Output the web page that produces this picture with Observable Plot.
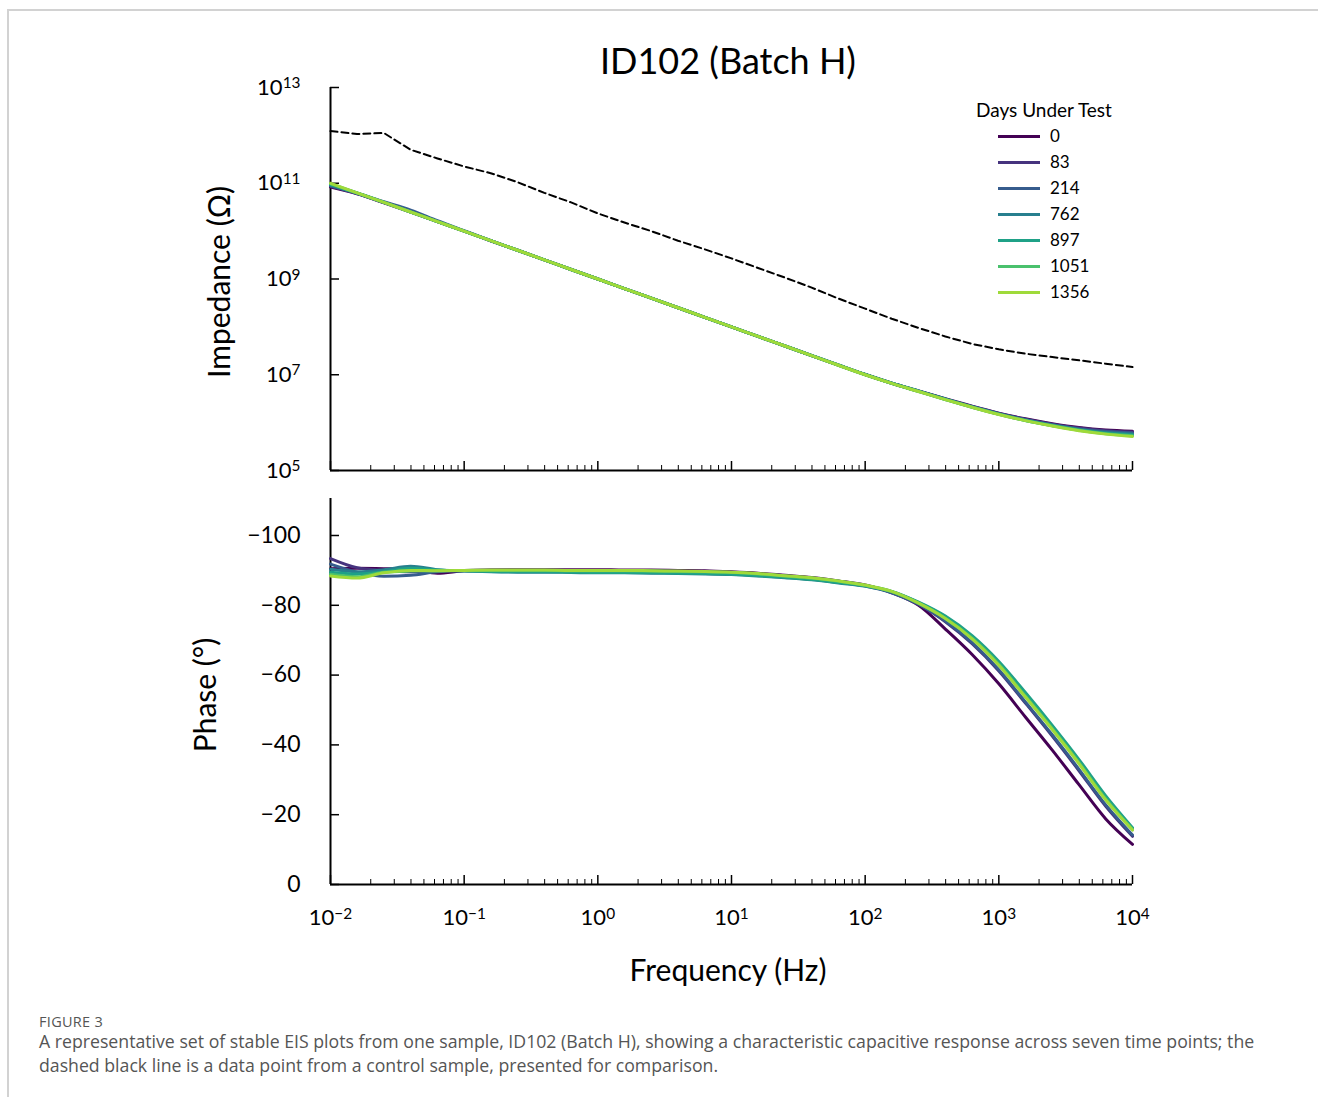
<!DOCTYPE html>
<html>
<head>
<meta charset="utf-8">
<script src="https://cdn.jsdelivr.net/npm/d3@7"></script>
<script src="https://cdn.jsdelivr.net/npm/@observablehq/plot@0.6"></script>
<style>
  body { margin: 0; background: #fff; }
  #page { position: relative; width: 1318px; height: 1097px; overflow: hidden; font-family: Lato, "Open Sans", sans-serif; color: #000; }
  #border { position: absolute; left: 7px; top: 9px; width: 1400px; height: 1200px; border-left: 2px solid #d2d2d2; border-top: 2px solid #d2d2d2; }
  .abs { position: absolute; white-space: nowrap; }
  .rot { transform: translate(-50%, -50%) rotate(-90deg); }
  .ctr { transform: translate(-50%, -50%); }
  #p1, #p2 { position: absolute; left: 0; }
  #p1 { top: 0; }
  #p2 { top: 490px; }
  #legend { position: absolute; left: 960px; top: 98px; }
  .cap { position: absolute; left: 39px; font-family: "Open Sans", Lato, sans-serif; color: #555; }
</style>
</head>
<body>
<div id="page">
  <div id="border"></div>
  <div id="p1"></div>
  <div id="p2"></div>
  <div class="abs ctr" id="title" style="left:728px; top:60px; font-size:36px;">ID102 (Batch H)</div>
  <div class="abs rot" style="left:218px; top:282px; font-size:30px;">Impedance (Ω)</div>
  <div class="abs rot" style="left:204px; top:695px; font-size:30px;">Phase (°)</div>
  <div class="abs ctr" style="left:728px; top:969px; font-size:30px;">Frequency (Hz)</div>
  <div id="legend"></div>
  <div class="cap" style="top:1012px; font-size:14.5px; letter-spacing:0.3px;">FIGURE 3</div>
  <div class="cap" style="top:1029px; font-size:17.7px; line-height:24px;">A representative set of stable EIS plots from one sample, ID102 (Batch H), showing a characteristic capacitive response across seven time points; the<br>dashed black line is a data point from a control sample, presented for comparison.</div>
</div>
<script>
// ---------- DATA ----------
const days = ["0", "83", "214", "762", "897", "1051", "1356"];
const colors = ["#440154", "#46337e", "#365c8d", "#277f8e", "#1fa187", "#4ac16d", "#9fda3a"];

const frequency = [0.01, 0.0158, 0.0251, 0.0398, 0.0631, 0.1, 0.158, 0.251, 0.398, 0.631,
  1, 1.58, 2.51, 3.98, 6.31, 10, 15.8, 25.1, 39.8, 63.1,
  100, 158, 251, 398, 631, 1000, 1580, 2510, 3980, 6310, 10000];

// |Z| (ohm) per day
const impedance0 = [8.3e10, 6.0e10, 3.9e10, 2.5e10, 1.58e10, 1.0e10, 6.3e9, 3.98e9, 2.51e9, 1.58e9,
  1.0e9, 6.31e8, 3.98e8, 2.51e8, 1.58e8, 1.0e8, 6.31e7, 3.98e7, 2.51e7, 1.59e7,
  1.01e7, 6.7e6, 4.6e6, 3.15e6, 2.2e6, 1.58e6, 1.2e6, 9.5e5, 7.9e5, 7.0e5, 6.6e5];
const impedance83 = [8.6e10, 6.1e10, 3.95e10, 2.55e10, 1.58e10, 1.0e10, 6.3e9, 3.98e9, 2.51e9, 1.58e9,
  1.0e9, 6.31e8, 3.98e8, 2.51e8, 1.58e8, 1.0e8, 6.31e7, 3.98e7, 2.51e7, 1.59e7,
  1.01e7, 6.65e6, 4.55e6, 3.1e6, 2.17e6, 1.56e6, 1.18e6, 9.3e5, 7.7e5, 6.8e5, 6.4e5];
const impedance214 = [8.8e10, 6.2e10, 4.1e10, 2.75e10, 1.65e10, 1.02e10, 6.35e9, 3.98e9, 2.51e9, 1.58e9,
  1.0e9, 6.31e8, 3.98e8, 2.51e8, 1.58e8, 1.0e8, 6.31e7, 3.98e7, 2.51e7, 1.59e7,
  1.01e7, 6.65e6, 4.55e6, 3.1e6, 2.15e6, 1.54e6, 1.15e6, 9.0e5, 7.4e5, 6.5e5, 6.1e5];
const impedance762 = [9.2e10, 6.2e10, 3.98e10, 2.5e10, 1.58e10, 1.0e10, 6.31e9, 3.98e9, 2.51e9, 1.58e9,
  1.0e9, 6.31e8, 3.98e8, 2.51e8, 1.58e8, 1.0e8, 6.31e7, 3.98e7, 2.52e7, 1.6e7,
  1.02e7, 6.7e6, 4.6e6, 3.12e6, 2.15e6, 1.52e6, 1.13e6, 8.8e5, 7.2e5, 6.2e5, 5.8e5];
const impedance897 = [9.5e10, 6.25e10, 3.98e10, 2.51e10, 1.58e10, 1.0e10, 6.31e9, 3.98e9, 2.51e9, 1.58e9,
  1.0e9, 6.31e8, 3.98e8, 2.51e8, 1.58e8, 1.0e8, 6.31e7, 3.98e7, 2.51e7, 1.59e7,
  1.01e7, 6.65e6, 4.5e6, 3.05e6, 2.1e6, 1.5e6, 1.11e6, 8.7e5, 7.0e5, 6.0e5, 5.5e5];
const impedance1051 = [9.8e10, 6.3e10, 3.98e10, 2.51e10, 1.58e10, 1.0e10, 6.31e9, 3.98e9, 2.51e9, 1.58e9,
  1.0e9, 6.31e8, 3.98e8, 2.51e8, 1.58e8, 1.0e8, 6.31e7, 3.98e7, 2.51e7, 1.58e7,
  1.0e7, 6.6e6, 4.47e6, 3.02e6, 2.09e6, 1.49e6, 1.1e6, 8.6e5, 6.9e5, 5.85e5, 5.3e5];
const impedance1356 = [1.0e11, 6.31e10, 3.98e10, 2.51e10, 1.58e10, 1.0e10, 6.31e9, 3.98e9, 2.51e9, 1.58e9,
  1.0e9, 6.31e8, 3.98e8, 2.51e8, 1.58e8, 1.0e8, 6.31e7, 3.98e7, 2.51e7, 1.58e7,
  1.0e7, 6.6e6, 4.47e6, 3.02e6, 2.09e6, 1.48e6, 1.1e6, 8.5e5, 6.8e5, 5.75e5, 5.13e5];

// control sample |Z| (dashed)
const controlImpedance = [1.23e12, 1.07e12, 1.12e12, 5.0e11, 3.3e11, 2.24e11, 1.62e11, 1.05e11, 6.3e10, 3.98e10,
  2.34e10, 1.51e10, 1.0e10, 6.3e9, 4.17e9, 2.69e9, 1.7e9, 1.07e9, 6.6e8, 3.9e8,
  2.4e8, 1.48e8, 9.5e7, 6.3e7, 4.4e7, 3.4e7, 2.75e7, 2.34e7, 2.0e7, 1.7e7, 1.45e7];

// phase (degrees) per day
const phase0 = [-90.5, -90.6, -90.5, -90.3, -89.2, -89.9, -90.1, -90.2, -90.2, -90.2,
  -90.2, -90.1, -90.1, -90.0, -89.9, -89.6, -89.2, -88.6, -88.0, -87.0,
  -85.8, -83.6, -80.0, -73.2, -65.9, -57.5, -48.0, -38.5, -28.6, -18.8, -11.5];
const phase83 = [-93.4, -90.8, -90.0, -89.6, -89.8, -90.0, -90.1, -90.1, -90.1, -90.0,
  -90.0, -90.0, -89.9, -89.8, -89.7, -89.4, -89.0, -88.5, -87.8, -86.9,
  -85.7, -83.7, -80.3, -75.3, -69.0, -61.2, -52.0, -42.5, -32.6, -22.4, -13.8];
const phase214 = [-91.8, -89.5, -88.3, -88.6, -89.6, -90.0, -90.0, -90.0, -89.9, -89.9,
  -89.8, -89.8, -89.7, -89.6, -89.5, -89.2, -88.8, -88.2, -87.5, -86.6,
  -85.5, -83.6, -80.3, -75.5, -69.3, -61.5, -52.3, -42.9, -33.0, -22.8, -14.2];
const phase762 = [-90.3, -89.6, -90.2, -91.2, -90.2, -89.8, -89.6, -89.5, -89.5, -89.4,
  -89.3, -89.3, -89.2, -89.1, -89.0, -88.8, -88.4, -87.9, -87.3, -86.4,
  -85.5, -83.9, -80.8, -76.7, -71.0, -63.5, -54.6, -45.2, -35.4, -25.0, -16.0];
const phase897 = [-89.5, -89.0, -89.6, -90.6, -90.1, -89.9, -89.7, -89.6, -89.6, -89.5,
  -89.4, -89.4, -89.3, -89.2, -89.1, -88.9, -88.5, -88.0, -87.4, -86.5,
  -85.6, -84.0, -80.9, -76.9, -71.3, -63.9, -55.0, -45.6, -35.8, -25.4, -16.3];
const phase1051 = [-88.9, -88.2, -89.5, -89.8, -89.9, -90.0, -90.0, -90.0, -90.0, -89.9,
  -89.9, -89.9, -89.8, -89.7, -89.6, -89.4, -89.0, -88.4, -87.8, -86.9,
  -85.7, -83.9, -80.6, -76.3, -70.6, -63.1, -54.0, -44.7, -34.9, -24.5, -15.8];
const phase1356 = [-88.4, -87.8, -89.3, -90.0, -89.9, -90.0, -90.1, -90.1, -90.1, -90.0,
  -90.0, -90.0, -89.9, -89.8, -89.7, -89.5, -89.1, -88.5, -87.9, -87.0,
  -85.8, -84.0, -80.6, -76.2, -70.4, -62.8, -53.7, -44.4, -34.6, -24.2, -15.6];

// ticks
const freqTicks = [0.01, 0.1, 1, 10, 100, 1000, 10000];
const freqTickLabels = ["10⁻²", "10⁻¹", "10⁰", "10¹", "10²", "10³", "10⁴"];
const impedanceTicks = [1e5, 1e7, 1e9, 1e11, 1e13];
const impedanceTickLabels = ["10⁵", "10⁷", "10⁹", "10¹¹", "10¹³"];
const phaseTicks = [0, -20, -40, -60, -80, -100];
const phaseTickLabels = ["0", "−20", "−40", "−60", "−80", "−100"];
const legendTitle = "Days Under Test";

// ---------- BUILD ----------
const impedanceByDay = [impedance0, impedance83, impedance214, impedance762, impedance897, impedance1051, impedance1356];
const phaseByDay = [phase0, phase83, phase214, phase762, phase897, phase1051, phase1356];
const rows = [];
days.forEach((d, k) => frequency.forEach((f, i) => rows.push({days: d, f, z: impedanceByDay[k][i], phase: phaseByDay[k][i]})));
const control = frequency.map((f, i) => ({f, z: controlImpedance[i]}));

const minorTicks = [];
for (const dec of [0.01, 0.1, 1, 10, 100, 1000]) for (let m = 2; m <= 9; m++) minorTicks.push(dec * m);

const fmtFreq = new Map(freqTicks.map((t, i) => [t, freqTickLabels[i]]));
const fmtImp = new Map(impedanceTicks.map((t, i) => [t, impedanceTickLabels[i]]));
const fmtPh = new Map(phaseTicks.map((t, i) => [t, phaseTickLabels[i]]));

const colorScale = {type: "ordinal", domain: days, range: colors};
const xScale = {type: "log", domain: [0.01, 10000]};
const baseStyle = {fontFamily: "Lato, sans-serif", background: "transparent", overflow: "visible", color: "#000"};
const blank = () => "";

const plot1 = Plot.plot({
  width: 1318, height: 490,
  marginLeft: 330, marginRight: 186, marginTop: 87, marginBottom: 20,
  x: xScale,
  y: {type: "log", domain: [1e5, 1e13]},
  color: colorScale,
  style: baseStyle,
  marks: [
    Plot.axisY(impedanceTicks, {tickSize: 0, tickPadding: 30, tickFormat: d => fmtImp.get(d), fontSize: 22, label: null}),
    Plot.axisY(impedanceTicks, {tickSize: -9, tickFormat: blank, label: null, strokeWidth: 1.5}),
    Plot.axisX(freqTicks, {tickSize: -9, tickFormat: blank, label: null, strokeWidth: 1.5}),
    Plot.axisX(minorTicks, {tickSize: -5, tickFormat: blank, label: null}),
    Plot.ruleX([0.01], {stroke: "#000", strokeWidth: 2}),
    Plot.ruleY([1e5], {stroke: "#000", strokeWidth: 2}),
    Plot.line(control, {x: "f", y: "z", stroke: "#000", strokeWidth: 2, strokeDasharray: "7,4"}),
    Plot.line(rows, {x: "f", y: "z", z: "days", stroke: "days", strokeWidth: 3, curve: "monotone-x"})
  ]
});
document.getElementById("p1").appendChild(plot1);

const plot2 = Plot.plot({
  width: 1318, height: 510,
  marginLeft: 330, marginRight: 186, marginTop: 8, marginBottom: 116,
  x: xScale,
  y: {domain: [0, -110.6]},
  color: colorScale,
  style: baseStyle,
  marks: [
    Plot.axisY(phaseTicks, {tickSize: 0, tickPadding: 30, tickFormat: d => fmtPh.get(d), fontSize: 23, label: null}),
    Plot.axisY(phaseTicks, {tickSize: -9, tickFormat: blank, label: null, strokeWidth: 1.5}),
    Plot.axisX(freqTicks, {tickSize: 0, tickPadding: 25, tickFormat: d => fmtFreq.get(d), fontSize: 22, label: null}),
    Plot.axisX(freqTicks, {tickSize: -9, tickFormat: blank, label: null, strokeWidth: 1.5}),
    Plot.axisX(minorTicks, {tickSize: -5, tickFormat: blank, label: null}),
    Plot.ruleX([0.01], {stroke: "#000", strokeWidth: 2}),
    Plot.ruleY([0], {stroke: "#000", strokeWidth: 2}),
    Plot.line(rows, {x: "f", y: "phase", z: "days", stroke: "days", strokeWidth: 3, curve: "monotone-x"})
  ]
});
document.getElementById("p2").appendChild(plot2);

// render "10ⁿ" tick labels as base + raised exponent (still real text)
const supMap = {"⁰":"0","¹":"1","²":"2","³":"3","⁴":"4","⁵":"5","⁶":"6","⁷":"7","⁸":"8","⁹":"9","⁻":"−"};
for (const svg of [plot1, plot2]) {
  svg.querySelectorAll("text").forEach(t => {
    const s = t.textContent;
    const m = /^10([⁰¹²³⁴⁵⁶⁷⁸⁹⁻]+)$/.exec(s);
    if (!m) return;
    const exp = [...m[1]].map(c => supMap[c]).join("");
    t.textContent = "";
    t.append("10");
    const ts = document.createElementNS("http://www.w3.org/2000/svg", "tspan");
    ts.setAttribute("dy", "-0.42em");
    ts.setAttribute("font-size", "0.7em");
    ts.textContent = exp;
    t.appendChild(ts);
  });
}

// legend
const legend = document.getElementById("legend");
let html = `<div style="position:absolute;left:16px;top:0;font-size:19px;white-space:nowrap;">${legendTitle}</div>`;
days.forEach((d, i) => {
  const y = 38 + i * 26;
  html += `<div style="position:absolute;left:38px;top:${y - 1.5}px;width:42px;height:3.5px;background:${colors[i]};"></div>`;
  html += `<div style="position:absolute;left:90px;top:${y - 11}px;font-size:17px;line-height:22px;white-space:nowrap;">${d}</div>`;
});
legend.innerHTML = html;
</script>
</body>
</html>
